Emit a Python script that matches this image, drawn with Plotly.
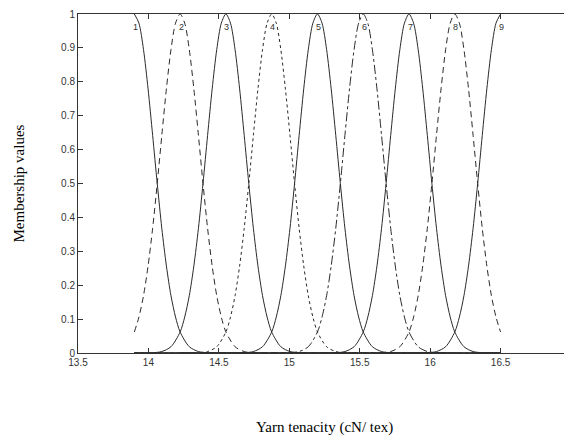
import plotly.graph_objects as go

# Centres of the nine membership functions
centers = [13.9, 14.225, 14.55, 14.875, 15.2, 15.525, 15.85, 16.175, 16.5]
labels = ["1", "2", "3", "4", "5", "6", "7", "8", "9"]
dashes = ["solid", "6px,4px", "solid", "dot", "solid", "dashdot", "solid", "6px,4px", "solid"]

# Membership profile: value vs distance from centre
profile_offsets = [0.0, 0.0325, 0.065, 0.0975, 0.13, 0.1625, 0.195, 0.2275, 0.26,
                   0.2925, 0.325, 0.39, 0.455, 0.52, 0.65, 0.975, 1.3, 1.95, 2.6]
profile_values = [1.0, 0.973, 0.895, 0.779, 0.642, 0.5, 0.368, 0.257, 0.169,
                  0.106, 0.062, 0.0185, 0.0043, 0.0008, 0.0, 0.0, 0.0, 0.0, 0.0]

x_min, x_max = 13.9, 16.5

x_ticks = [13.5, 14, 14.5, 15, 15.5, 16, 16.5, 17]
y_ticks = [0, 0.1, 0.2, 0.3, 0.4, 0.5, 0.6, 0.7, 0.8, 0.9, 1]

fig = go.Figure()
for c, d in zip(centers, dashes):
    pts = []
    for o, v in zip(profile_offsets, profile_values):
        for s in ([-1, 1] if o > 0 else [1]):
            xv = round(c + s * o, 6)
            if x_min - 1e-9 <= xv <= x_max + 1e-9:
                pts.append((xv, v))
    pts.sort()
    fig.add_trace(go.Scatter(
        x=[p[0] for p in pts], y=[p[1] for p in pts], mode="lines",
        line=dict(color="#2a2a2a", width=1, dash=d, shape="spline", smoothing=0.8),
        showlegend=False, hoverinfo="skip"))

for c, t in zip(centers, labels):
    fig.add_annotation(x=c, y=0.962, xref="x", yref="y", text=t, showarrow=False,
                       font=dict(family="Liberation Sans, Arial", size=9, color="#333333"),
                       xanchor="center", yanchor="middle", xshift=1)

fig.add_annotation(x=0.5, y=-0.221, xref="paper", yref="paper",
                   text="Yarn tenacity (cN/ tex)", showarrow=False,
                   font=dict(family="Liberation Serif, Times New Roman", size=15, color="black"),
                   xanchor="center", yanchor="middle")
fig.add_annotation(x=-0.1217, y=0.5, xref="paper", yref="paper",
                   text="Membership values", showarrow=False, textangle=-90,
                   font=dict(family="Liberation Serif, Times New Roman", size=15, color="black"),
                   xanchor="center", yanchor="middle")

axis_common = dict(showgrid=False, zeroline=False, showline=True, linecolor="#333333",
                   linewidth=1, mirror="ticks", ticks="inside", ticklen=5,
                   tickcolor="#333333",
                   tickfont=dict(family="Liberation Sans, Arial", size=10, color="#333333"))

fig.update_xaxes(range=[13.5, 17], tickvals=x_ticks,
                 ticktext=[str(v) for v in x_ticks], **axis_common)
fig.update_yaxes(range=[0, 1], tickvals=y_ticks,
                 ticktext=[("%g" % v) for v in y_ticks], **axis_common)

fig.update_layout(width=564, height=436, margin=dict(l=70, r=1, t=6, b=91),
                  plot_bgcolor="white", paper_bgcolor="white")

fig.write_html("out.html")
